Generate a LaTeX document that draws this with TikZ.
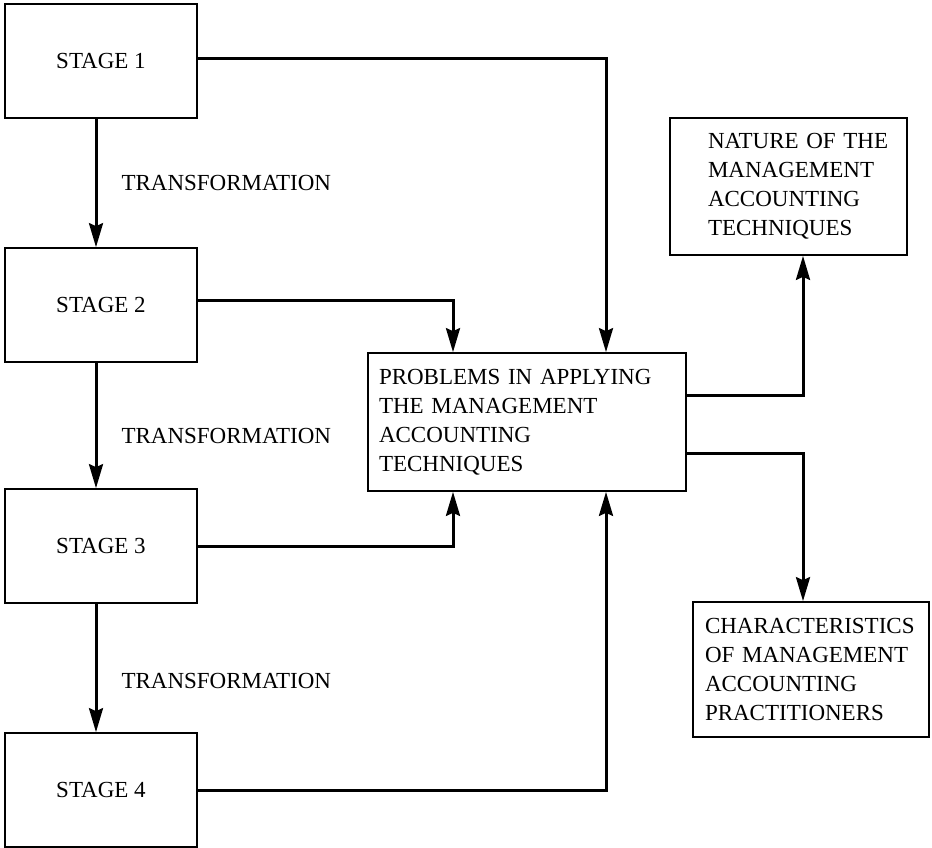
\documentclass[tikz,border=0pt]{standalone}
\usepackage{fontspec}
\setmainfont{Liberation Serif}
\usetikzlibrary{arrows.meta}
\tikzset{
	stagebox/.style={draw, line width=1.7pt, minimum width=192pt, minimum height=114pt, inner sep=0pt},
	infobox/.style={draw, line width=1.7pt, align=left, inner ysep=0pt},
	flow/.style={line width=3pt, -{Stealth[length=24pt, width=14pt, inset=3pt]}},
	trans/.style={right=24pt, inner sep=0pt},
}

\begin{document}
\begin{tikzpicture}[x=1pt, y=-1pt, font=\fontsize{23}{29}\selectfont]
			%%%%% START %%%%%
			\useasboundingbox (0, 0) rectangle (932, 847);
			
			\node[stagebox] (s1) at (101, 61) {STAGE 1};
			\node[stagebox] (s2) at (101, 305) {STAGE 2};
			\node[stagebox] (s3) at (101, 546) {STAGE 3};
			\node[stagebox] (s4) at (101, 790) {STAGE 4};
			
			\node[infobox, text width=296pt, inner xsep=11pt, minimum height=138pt] (prob) at (527, 422)
				{PROBLEMS IN APPLYING\\THE MANAGEMENT\\ACCOUNTING\\TECHNIQUES};
			\node[infobox, text width=161pt, inner xsep=38pt, minimum height=137pt] (nature) at (788.5, 186.5)
				{NATURE~OF~THE\\MANAGEMENT\\ACCOUNTING\\TECHNIQUES};
			\node[infobox, text width=212pt, inner xsep=12pt, minimum height=135pt] (chars) at (811, 669.5)
				{CHARACTERISTICS\\OF MANAGEMENT\\ACCOUNTING\\PRACTITIONERS};
			
			\draw[flow] ([xshift=-5pt]s1.south) -- node[trans, pos=0.5] {TRANSFORMATION} ([xshift=-5pt]s2.north);
			\draw[flow] ([xshift=-5pt]s2.south) -- node[trans, pos=0.58] {TRANSFORMATION} ([xshift=-5pt]s3.north);
			\draw[flow] ([xshift=-5pt]s3.south) -- node[trans, pos=0.6] {TRANSFORMATION} ([xshift=-5pt]s4.north);
			
			\draw[flow] ([yshift=3pt]s1.east) -| ([xshift=79pt]prob.north);
			\draw[flow] ([yshift=5pt]s2.east) -| ([xshift=-74pt]prob.north);
			\draw[flow] (s3.east) -| ([xshift=-74pt]prob.south);
			\draw[flow] (s4.east) -| ([xshift=79pt]prob.south);
			
			\draw[flow] ([yshift=27pt]prob.east) -| ([xshift=14.5pt]nature.south);
			\draw[flow] ([yshift=-31pt]prob.east) -| ([xshift=-8pt]chars.north);
			%%%%% END %%%%%
		\end{tikzpicture}
\end{document}
